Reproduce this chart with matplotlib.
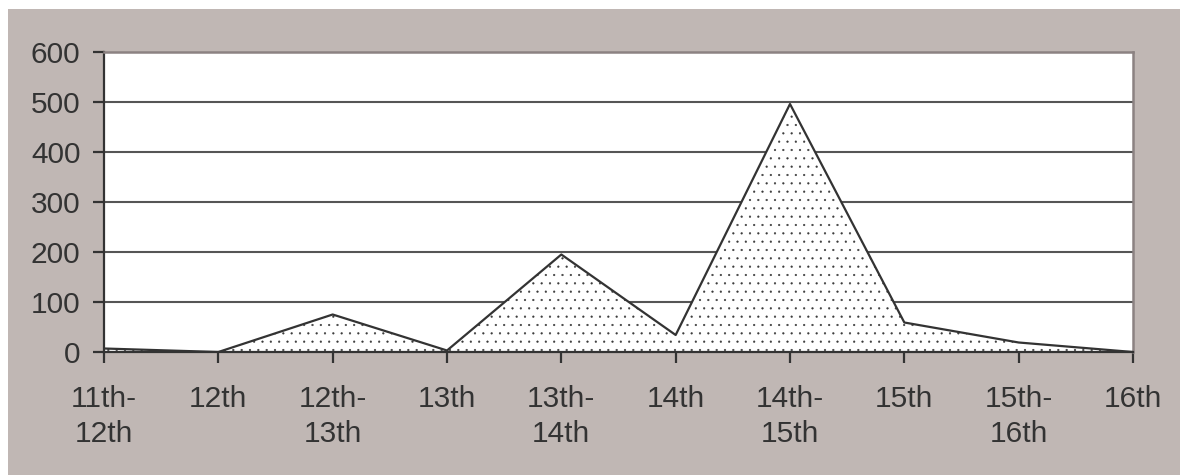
#!/usr/bin/python3

from matplotlib import pyplot as plt
from matplotlib.patches import Rectangle

periods = ['11th-\n12th', '12th', '12th-\n13th', '13th', '13th-\n14th',
           '14th', '14th-\n15th', '15th', '15th-\n16th', '16th']
counts = [7, 0, 75, 3, 195, 34, 496, 59, 19, 0]
y_ticks = [0, 100, 200, 300, 400, 500, 600]

plt.rcParams['font.family'] = ['Liberation Sans', 'DejaVu Sans']
plt.rcParams['hatch.linewidth'] = 0.35
plt.rcParams['hatch.color'] = '#3a3a3a'

fig = plt.figure(figsize=(11.8, 4.75), dpi=100, facecolor='white')
# grey panel with a thin white margin on top and left
fig.patches.append(Rectangle((8 / 1180, 0), 1, 1 - 9 / 475, transform=fig.transFigure,
                             facecolor='#c0b7b4', edgecolor='none', zorder=-1))

ax = fig.add_axes([104 / 1180, 1 - 352 / 475, 1029 / 1180, 300 / 475])
ax.set_facecolor('white')

x = list(range(len(periods)))
ax.fill_between(x, counts, 0, facecolor='white', edgecolor='none', hatch='..', zorder=2)
ax.plot(x, counts, color='#333333', lw=1.6, zorder=3)

ax.set_xlim(0, len(periods) - 1)
ax.set_ylim(0, 600)
ax.set_yticks(y_ticks)
ax.set_xticks(x)
ax.set_xticklabels(periods)

for v in y_ticks[1:-1]:
    ax.axhline(v, color='#555555', lw=1.5, zorder=1)

for side in ('left', 'bottom'):
    ax.spines[side].set_color('#333333')
    ax.spines[side].set_linewidth(1.6)
for side in ('top', 'right'):
    ax.spines[side].set_color('#8c8282')
    ax.spines[side].set_linewidth(1.8)
ax.spines['bottom'].set_zorder(4)

ax.tick_params(axis='both', colors='#333333', labelsize=21.5, direction='out',
               length=8, width=1.6)
ax.tick_params(axis='y', pad=9)
ax.tick_params(axis='x', pad=16)
for lab in ax.get_xticklabels():
    lab.set_linespacing(1.3)

fig.savefig('out.png', dpi=100)
plt.close(fig)
